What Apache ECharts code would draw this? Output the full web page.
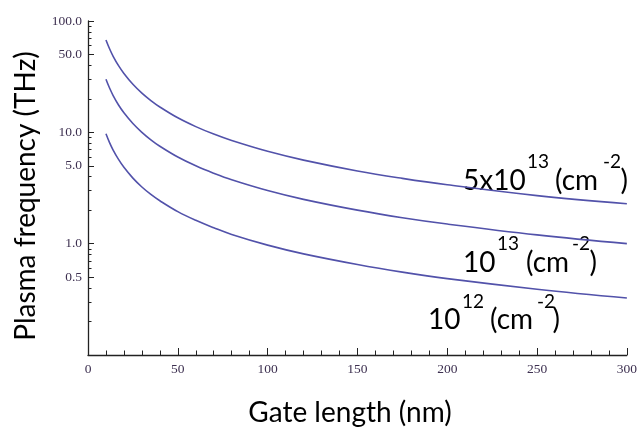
<!DOCTYPE html>
<html>
<head>
<meta charset="utf-8">
<script src="https://cdn.jsdelivr.net/npm/echarts@6/dist/echarts.min.js"></script>
<style>html,body{margin:0;padding:0;background:#fff}#c{width:640px;height:433px}</style>
</head>
<body>
<div id="c"></div>
<script>
// Gate length (nm)
const gateLength = [10, 12, 14, 17, 20, 25, 30, 35, 40, 50, 60, 70, 80, 100, 120, 150, 175, 200, 250, 300];
// Plasma frequency (THz) for each carrier density
const f5e13 = [67.5, 56.3, 48.2, 39.7, 33.8, 27.0, 22.5, 19.3, 16.9, 13.5, 11.25, 9.64, 8.44, 6.75, 5.63, 4.5, 3.86, 3.38, 2.7, 2.28];
const f1e13 = [30, 25, 21.4, 17.6, 15, 12, 10, 8.57, 7.5, 6.0, 5.0, 4.29, 3.75, 3.0, 2.5, 2.0, 1.71, 1.5, 1.2, 1.0];
const f1e12 = [9.7, 8.08, 6.93, 5.71, 4.85, 3.88, 3.23, 2.77, 2.43, 1.94, 1.62, 1.39, 1.21, 0.97, 0.81, 0.65, 0.555, 0.485, 0.39, 0.325];
const yLabelValues = [0.5, 1, 5, 10, 50, 100];
const yMinorTicks = [0.2, 0.3, 0.4, 0.6, 0.7, 0.8, 0.9, 2, 3, 4, 6, 7, 8, 9, 20, 30, 40, 60, 70, 80, 90];
const xTitle = 'Gate length (nm)';
const yTitle = 'Plasma frequency (THz)';

const chart = echarts.init(document.getElementById('c'), null, {renderer: 'canvas'});
const lineColor = '#5252aa';
const tickFont = {fontFamily: 'Liberation Serif', fontSize: 13.5, color: '#3d3050'};
const titleFont = 'Lato';
const annSize = 28, supSize = 19;

function mk(name, data) {
  return {
    type: 'line', name: name, smooth: 0.4, showSymbol: false, symbol: 'none',
    data: gateLength.map((x, i) => [x, data[i]]),
    lineStyle: {color: lineColor, width: 1.6}, itemStyle: {color: lineColor},
    xAxisIndex: 0, yAxisIndex: 0, animation: false
  };
}
function txt(text, x, y, size, align) {
  return {type: 'text', x: x, y: y, style: {text: text, fontFamily: titleFont, fontSize: size, fill: '#000', align: align || 'left', verticalAlign: 'middle'}};
}

chart.setOption({
  animation: false,
  grid: {left: 88, right: 12, top: 21, bottom: 78},
  xAxis: {
    type: 'value', min: 0, max: 300, interval: 50,
    axisLine: {lineStyle: {color: '#222', width: 1.3}},
    axisTick: {inside: true, length: 7, lineStyle: {color: '#222'}},
    minorTick: {show: true, splitNumber: 5, length: 4.5, lineStyle: {color: '#222'}},
    axisLabel: Object.assign({margin: 7}, tickFont),
    splitLine: {show: false}
  },
  yAxis: [{
    type: 'log', logBase: 10, min: 0.1, max: 100,
    axisLine: {show: true, lineStyle: {color: '#222', width: 1.3}},
    axisTick: {show: true, inside: true, length: 6, customValues: yLabelValues, lineStyle: {color: '#222'}},
    axisLabel: Object.assign({margin: 6, customValues: yLabelValues, formatter: v => Number(v).toFixed(1)}, tickFont),
    splitLine: {show: false}
  }, {
    type: 'log', logBase: 10, min: 0.1, max: 100, position: 'left',
    axisLine: {show: false},
    axisTick: {show: true, inside: true, length: 3.5, customValues: yMinorTicks, lineStyle: {color: '#222'}},
    axisLabel: {show: false},
    splitLine: {show: false}
  }],
  series: [mk('5x10^13', f5e13), mk('10^13', f1e13), mk('10^12', f1e12)],
  graphic: [
    txt(xTitle, 350, 413, 28, 'center'),
    {type: 'text', x: 26, y: 196, rotation: Math.PI / 2, style: {text: yTitle, fontFamily: titleFont, fontSize: 28, fill: '#000', align: 'center', verticalAlign: 'middle'}},
    // 5x10^13 (cm^-2)
    txt('5x10', 463, 181, annSize), txt('13', 527, 162, supSize), txt('(cm', 555, 181, annSize), txt('-2', 603, 162, supSize), txt(')', 628, 181, annSize, 'right'),
    // 10^13 (cm^-2)
    txt('10', 463, 263, annSize), txt('13', 497, 244, supSize), txt('(cm', 526, 263, annSize), txt('-2', 572, 244, supSize), txt(')', 597, 263, annSize, 'right'),
    // 10^12 (cm^-2)
    txt('10', 428, 320, annSize), txt('12', 462, 302, supSize), txt('(cm', 490, 320, annSize), txt('-2', 537, 302, supSize), txt(')', 560, 320, annSize, 'right')
  ]
});
</script>
</body>
</html>
